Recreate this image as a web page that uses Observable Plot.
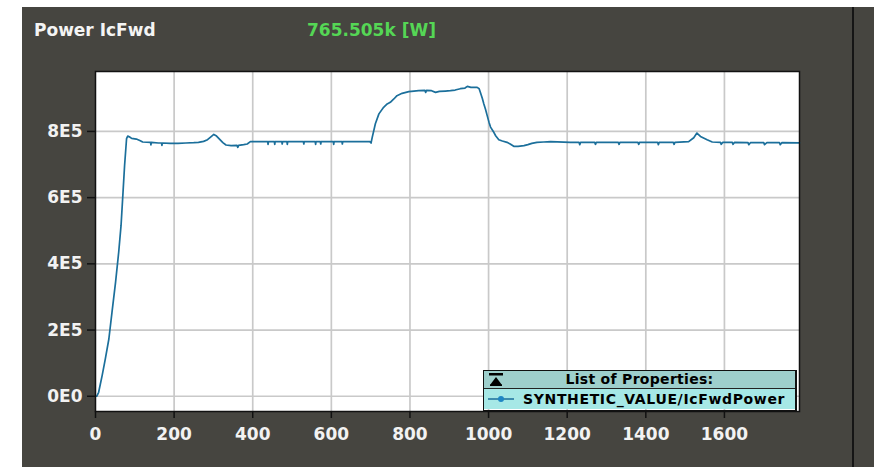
<!DOCTYPE html>
<html>
<head>
<meta charset="utf-8">
<script src="https://cdn.jsdelivr.net/npm/d3@7"></script>
<script src="https://cdn.jsdelivr.net/npm/@observablehq/plot@0.6"></script>
<style>
  html, body { margin: 0; padding: 0; background: #ffffff; }
  #wrap { position: relative; width: 874px; height: 468px; overflow: hidden; font-family: "DejaVu Sans", sans-serif; }
  #panel { position: absolute; left: 22px; top: 7px; width: 852px; height: 460px; background: #464540; }
  #divider { position: absolute; left: 852px; top: 7px; width: 2px; height: 460px; background: #151515; }
  #chart { position: absolute; left: 0; top: 0; }
  .head { position: absolute; top: 22px; font-size: 17px; line-height: 17px; font-weight: bold; white-space: nowrap; }
  #title { left: 34px; color: #f4f4f4; }
  #reading { left: 307px; color: #55d655; }
  #legend { position: absolute; left: 483px; top: 370px; width: 314px; height: 41px; box-sizing: border-box;
            border: 1.5px solid #111; border-right-width: 2.5px; font-size: 14px; font-weight: bold; color: #000; }
  #legend .hdr { position: relative; height: 17px; line-height: 17px; background: #9ecfcc; text-align: center;
                 border-bottom: 1px solid #222; letter-spacing: 0.3px; }
  #legend .hdr svg { position: absolute; left: 4px; top: 1px; }
  #legend .row { position: relative; height: 20px; line-height: 20px; background: #a6e8e6; padding-left: 39px; letter-spacing: 0.65px; }
  #legend .row svg { position: absolute; left: 3px; top: 5px; }
</style>
</head>
<body>
<div id="wrap">
  <div id="panel"></div>
  <div id="divider"></div>
  <div id="chart"></div>
  <div id="title" class="head"></div>
  <div id="reading" class="head"></div>
  <div id="legend"></div>
</div>
<script>
// Forward power of the IC channel, sampled over time (seconds, watts)
const timeSec = [
  0, 3, 8, 17, 25, 34, 42, 51, 59, 65, 70, 74, 79, 82, 86, 92, 104, 114, 120, 140,
  141, 142, 160, 168, 169, 170, 190, 210, 230, 250, 262, 275, 285, 292, 301, 308, 316, 324, 332, 345,
  360, 362, 364, 377, 386, 394, 438, 439, 440, 455, 456, 457, 474, 475, 476, 487, 488, 489, 529, 530,
  531, 559, 560, 561, 572, 573, 574, 605, 606, 607, 627, 628, 629, 698, 701, 704, 712, 721, 733, 742,
  750, 759, 767, 780, 797, 810, 822, 838, 840, 842, 855, 865, 875, 890, 903, 915, 928, 940, 946, 955,
  971, 976, 979, 984, 988, 992, 996, 1001, 1005, 1012, 1018, 1026, 1035, 1047, 1055, 1064, 1075, 1090, 1100, 1110,
  1123, 1140, 1158, 1208, 1230, 1232, 1234, 1270, 1272, 1274, 1330, 1332, 1334, 1380, 1382, 1384, 1430, 1432, 1434, 1470,
  1472, 1474, 1509, 1522, 1530, 1539, 1556, 1569, 1590, 1592, 1596, 1620, 1622, 1626, 1660, 1662, 1666, 1700, 1702, 1708,
  1740, 1742, 1746, 1791
];
const powerW = [
  0, 0, 12000, 63000, 113000, 173000, 254000, 344000, 435000, 516000, 616000, 697000, 778000, 786000, 784000, 779000, 777000, 772000, 768000, 767000,
  759000, 767000, 765000, 765000, 758000, 765000, 764000, 764000, 765000, 766000, 767000, 770000, 775000, 782000, 791000, 786000, 776000, 766000, 759000, 757000,
  758000, 752000, 758000, 760000, 762000, 769000, 769000, 761000, 769000, 769000, 761000, 769000, 769000, 762000, 769000, 769000, 761000, 769000, 769000, 762000,
  769000, 769000, 761000, 769000, 769000, 762000, 769000, 769000, 761000, 769000, 769000, 762000, 769000, 769000, 765000, 782000, 823000, 853000, 873000, 883000,
  888000, 898000, 908000, 915000, 920000, 922000, 923000, 924000, 918000, 924000, 923000, 918000, 921000, 922000, 923000, 925000, 929000, 931000, 936000, 933000,
  933000, 929000, 918000, 900000, 883000, 868000, 850000, 828000, 813000, 800000, 787000, 775000, 771000, 767000, 762000, 755000, 755000, 757000, 760000, 764000,
  767000, 768000, 769000, 767000, 767000, 760000, 767000, 767000, 761000, 767000, 767000, 761000, 767000, 767000, 761000, 767000, 767000, 760000, 767000, 767000,
  761000, 767000, 769000, 781000, 795000, 785000, 775000, 768000, 767000, 761000, 767000, 767000, 761000, 767000, 766000, 760000, 766000, 766000, 760000, 766000,
  766000, 760000, 766000, 765505
];

const xTicks = [0, 200, 400, 600, 800, 1000, 1200, 1400, 1600];
const yTicks = [0, 200000, 400000, 600000, 800000];
const chartTitle = "Power IcFwd";
const currentReading = "765.505k [W]";
const legendHeader = "List of Properties:";
const seriesName = "SYNTHETIC_VALUE/IcFwdPower";

const lineColor = "#1b6f9b";
const samples = timeSec.map((t, i) => ({t, p: powerW[i]}));

// Tick labels in scientific notation: 0E0, 2E5, 4E5 ...
const sci = d => d === 0 ? "0E0" : `${d / 1e5}E5`;

const chart = Plot.plot({
  width: 874,
  height: 468,
  marginLeft: 95,
  marginRight: 75,
  marginTop: 71,
  marginBottom: 57,
  style: {background: "transparent", fontFamily: "DejaVu Sans, sans-serif", color: "#f2f2f2"},
  x: {domain: [0, 1791]},
  y: {domain: [-46000, 981000]},
  marks: [
    Plot.frame({fill: "#ffffff", stroke: null}),
    Plot.gridX(xTicks.slice(1), {stroke: "#c9c9c9", strokeOpacity: 1, strokeWidth: 1.7}),
    Plot.gridY(yTicks, {stroke: "#c9c9c9", strokeOpacity: 1, strokeWidth: 1.7}),
    Plot.line(samples, {x: "t", y: "p", stroke: lineColor, strokeWidth: 1.7}),
    Plot.frame({stroke: "#111", strokeWidth: 1.5}),
    Plot.axisX(xTicks, {
      tickSize: 7, tickPadding: 9, stroke: "#111", fill: "#f2f2f2", strokeWidth: 1.5,
      fontSize: 17, fontWeight: "bold", label: null, tickFormat: d => `${d}`
    }),
    Plot.axisY(yTicks, {
      tickSize: 8, tickPadding: 5, stroke: "#111", fill: "#f2f2f2", strokeWidth: 1.5,
      fontSize: 17, fontWeight: "bold", label: null, tickFormat: sci
    })
  ]
});
document.getElementById("chart").appendChild(chart);

document.getElementById("title").textContent = chartTitle;
document.getElementById("reading").textContent = currentReading;

// Property list box in the lower right corner of the plot
const legend = document.getElementById("legend");
legend.innerHTML = `
  <div class="hdr">
    <svg width="16" height="15" viewBox="0 0 16 15">
      <rect x="1" y="1" width="14" height="2.5" fill="#000"/>
      <path d="M8 5 L14 13 L2 13 Z" fill="#000"/>
      <rect x="2" y="12.5" width="12" height="1.5" fill="#000"/>
    </svg>
    <span></span>
  </div>
  <div class="row">
    <svg width="30" height="10" viewBox="0 0 30 10">
      <line x1="1" y1="5" x2="27" y2="5" stroke="${lineColor}" stroke-width="1.5"/>
      <circle cx="14" cy="5" r="3" fill="#1f86c4"/>
    </svg>
    <span></span>
  </div>`;
legend.querySelector(".hdr span").textContent = legendHeader;
legend.querySelector(".row span").textContent = seriesName;
</script>
</body>
</html>
